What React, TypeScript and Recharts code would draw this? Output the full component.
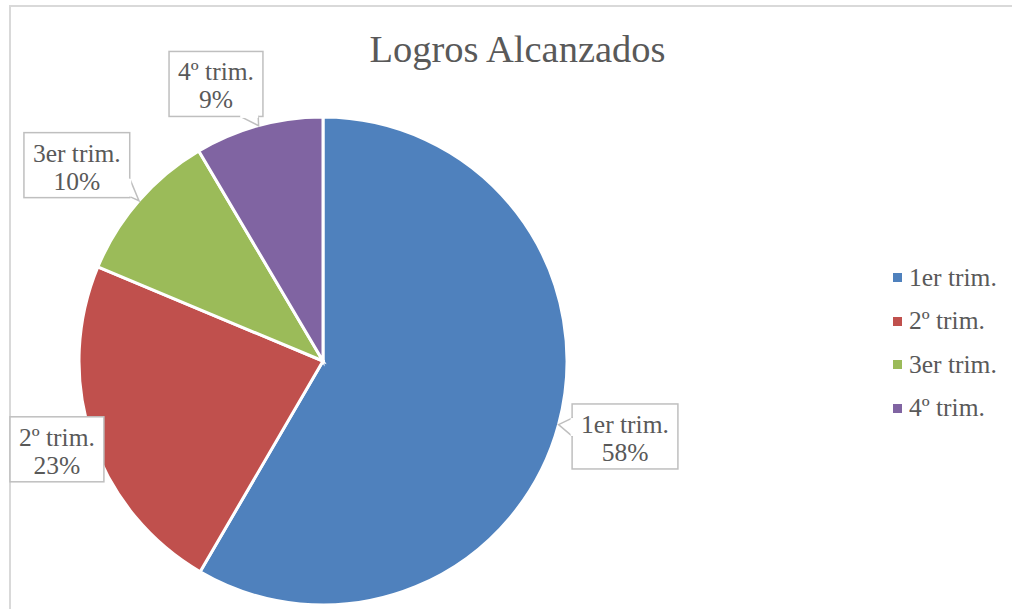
import React from 'react';
import { PieChart, Pie, Cell, Legend } from 'recharts';

const categories = ['1er trim.', '2º trim.', '3er trim.', '4º trim.'];
const values = [58.4, 22.9, 10.2, 8.5];
const colors = ['#4F81BD', '#C0504D', '#9BBB59', '#8064A2'];
const title = 'Logros Alcanzados';

const data = categories.map((name, i) => ({ name, value: values[i] }));
const total = values.reduce((a, b) => a + b, 0);

const FONT = '"Liberation Serif", "Times New Roman", serif';
const TEXT = '#595959';
const BOX_STROKE = '#BFBFBF';
const LABEL_FONT_SIZE = 25.5;
const LABEL_DIST = 1.28;
const LABEL_NUDGE: [number, number][] = [
  [0.5, -6],
  [0, -11],
  [-10.6, 9.2],
  [-24.6, 24.2],
];
const CHART_LEFT = 10;

let ctx: CanvasRenderingContext2D | null = null;
function measure(t: string): number {
  if (!ctx) {
    const c = document.createElement('canvas');
    ctx = c.getContext('2d');
  }
  if (!ctx) return t.length * 11;
  ctx.font = `${LABEL_FONT_SIZE}px ${FONT}`;
  return ctx.measureText(t).width;
}

function renderLabel(props: any) {
  const { cx, cy, midAngle, outerRadius, index } = props;
  const RAD = Math.PI / 180;
  const ux = Math.cos(-midAngle * RAD);
  const uy = Math.sin(-midAngle * RAD);
  const tipX = cx + outerRadius * ux;
  const tipY = cy + outerRadius * uy;
  const d = outerRadius * LABEL_DIST;
  const nudge = LABEL_NUDGE[index] || [0, 0];
  let bx = cx + d * ux + nudge[0];
  const by = cy + d * uy + nudge[1];
  const line1 = categories[index];
  const line2 = `${Math.round((values[index] / total) * 100)}%`;
  const w = Math.max(measure(line1), measure(line2)) + 18;
  const h = 65;
  let L = bx - w / 2;
  if (L < CHART_LEFT) L = CHART_LEFT;
  bx = L + w / 2;
  const T = by - h / 2;
  const R = L + w;
  const B = T + h;

  let pointer: React.ReactNode = null;
  const inside = tipX > L - 2 && tipX < R + 2 && tipY > T - 2 && tipY < B + 2;
  if (!inside) {
    const dx = tipX - bx;
    const dy = tipY - by;
    const tx = dx > 0 ? (R - bx) / dx : dx < 0 ? (L - bx) / dx : Infinity;
    const ty = dy > 0 ? (B - by) / dy : dy < 0 ? (T - by) / dy : Infinity;
    const t = Math.min(tx, ty);
    const px = bx + dx * t;
    const py = by + dy * t;
    const hw = 9;
    let b1: [number, number];
    let b2: [number, number];
    if (tx < ty) {
      const y1 = Math.max(T + 1, Math.min(B - 1 - 2 * hw, py - hw));
      b1 = [px, y1];
      b2 = [px, y1 + 2 * hw];
    } else {
      const x1 = Math.max(L + 1, Math.min(R - 1 - 2 * hw, px - hw));
      b1 = [x1, py];
      b2 = [x1 + 2 * hw, py];
    }
    pointer = (
      <g>
        <polygon
          points={`${b1[0]},${b1[1]} ${tipX},${tipY} ${b2[0]},${b2[1]}`}
          fill="#fff"
          stroke={BOX_STROKE}
          strokeWidth={1.5}
        />
        <line x1={b1[0]} y1={b1[1]} x2={b2[0]} y2={b2[1]} stroke="#fff" strokeWidth={3} />
      </g>
    );
  }

  return (
    <g key={`lbl-${index}`}>
      <rect x={L} y={T} width={w} height={h} fill="#fff" stroke={BOX_STROKE} strokeWidth={1.5} />
      {pointer}
      <text
        x={bx}
        y={by - 3.5}
        textAnchor="middle"
        fill={TEXT}
        fontFamily={FONT}
        fontSize={LABEL_FONT_SIZE}
      >
        {line1}
      </text>
      <text
        x={bx}
        y={by + 24.5}
        textAnchor="middle"
        fill={TEXT}
        fontFamily={FONT}
        fontSize={LABEL_FONT_SIZE}
      >
        {line2}
      </text>
    </g>
  );
}

function LegendContent() {
  return (
    <div style={{ fontFamily: FONT, fontSize: LABEL_FONT_SIZE, color: TEXT }}>
      {categories.map((c, i) => (
        <div
          key={c}
          style={{ display: 'flex', alignItems: 'center', height: 43.5, whiteSpace: 'nowrap' }}
        >
          <span
            style={{
              display: 'inline-block',
              width: 9,
              height: 9,
              background: colors[i],
              marginRight: 7,
            }}
          />
          <span>{c}</span>
        </div>
      ))}
    </div>
  );
}

export default function App() {
  return (
    <div style={{ position: 'fixed', left: 0, top: 0, width: 1012, height: 609, background: '#fff' }}>
      <div
        style={{
          position: 'absolute',
          left: 9,
          top: 5,
          width: 1010,
          height: 610,
          borderTop: '2px solid #D9D9D9',
          borderLeft: '2px solid #D9D9D9',
          boxSizing: 'border-box',
        }}
      />
      <div
        style={{
          position: 'absolute',
          left: 517.5,
          top: 30,
          transform: 'translateX(-50%)',
          whiteSpace: 'nowrap',
          fontFamily: FONT,
          fontSize: 38.5,
          lineHeight: '38px',
          color: TEXT,
        }}
      >
        {title}
      </div>
      <div style={{ position: 'absolute', left: 0, top: 0 }}>
        <PieChart width={1012} height={609} margin={{ top: 0, right: 0, bottom: 0, left: 0 }}>
          <Pie
            data={data}
            dataKey="value"
            nameKey="name"
            cx={323}
            cy={361}
            outerRadius={244}
            startAngle={90}
            endAngle={-270}
            stroke="#fff"
            strokeWidth={3}
            label={renderLabel}
            labelLine={false}
            isAnimationActive={false}
          >
            {data.map((d, i) => (
              <Cell key={d.name} fill={colors[i]} />
            ))}
          </Pie>
          <Legend
            layout="vertical"
            align="right"
            verticalAlign="top"
            content={<LegendContent />}
            wrapperStyle={{ position: 'absolute', left: 893, top: 256, width: 119 }}
          />
        </PieChart>
      </div>
    </div>
  );
}
